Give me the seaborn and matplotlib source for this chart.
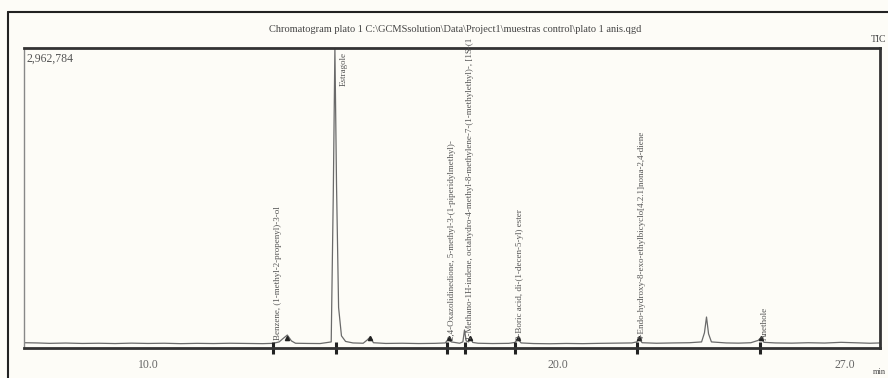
import numpy as np
import pandas as pd
import matplotlib
matplotlib.use("Agg")
import matplotlib.pyplot as plt
from matplotlib.lines import Line2D
import seaborn as sns

# ---- data (time in min, intensity in counts) ----
times = [7.00, 7.30, 7.60, 8.00, 8.40, 8.80, 9.20, 9.60, 10.00, 10.40, 10.80,
         11.20, 11.60, 12.00, 12.40, 12.80, 13.05, 13.20, 13.30, 13.40, 13.50,
         13.60, 13.90, 14.20, 14.47, 14.52, 14.56, 14.60, 14.65, 14.72, 14.82,
         15.00, 15.25, 15.35, 15.42, 15.50, 15.80, 16.20, 16.60, 17.00, 17.25,
         17.32, 17.40, 17.60, 17.68, 17.72, 17.76, 17.82, 17.86, 17.92, 18.05,
         18.40, 18.80, 18.95, 19.02, 19.10, 19.40, 19.80, 20.20, 20.60, 21.00,
         21.40, 21.80, 21.92, 21.98, 22.05, 22.40, 22.80, 23.20, 23.50, 23.57,
         23.62, 23.67, 23.74, 24.10, 24.40, 24.70, 24.88, 24.94, 25.02, 25.30,
         25.70, 26.10, 26.50, 26.90, 27.30, 27.60, 27.85]
intensity = [52000, 50000, 46000, 49000, 45000, 47000, 44000, 48000, 45000,
             47000, 43000, 46000, 44000, 47000, 45000, 43000, 46000, 60000,
             95000, 128000, 70000, 47000, 45000, 44000, 60000, 1500000,
             2962784, 1600000, 400000, 120000, 65000, 50000, 47000, 80000,
             109000, 52000, 45000, 47000, 44000, 46000, 50000, 85000, 60000,
             47000, 60000, 178000, 70000, 60000, 109000, 55000, 47000, 44000,
             46000, 55000, 90000, 50000, 44000, 42000, 45000, 43000, 46000,
             48000, 50000, 60000, 95000, 52000, 47000, 50000, 52000, 60000,
             150000, 306000, 140000, 60000, 50000, 48000, 52000, 75000,
             100000, 56000, 50000, 48000, 52000, 49000, 56000, 51000, 47000,
             50000]

peak_times = [13.05, 14.58, 17.30, 17.74, 18.95, 21.92, 24.92]
peak_names = [
    "Benzene, (1-methyl-2-propenyl)-3-ol",
    "Estragole",
    "2,4-Oxazolidinedione, 5-methyl-3-(1-piperidylmethyl)-",
    "1-Methano-1H-indene, octahydro-4-methyl-8-methylene-7-(1-methylethyl)-, [1S-(1",
    "9-Boric acid, di-(1-decen-5-yl) ester",
    "4-Endo-hydroxy-8-exo-ethylbicyclo[4.2.1]nona-2,4-diene",
    "Anethole",
]
peak_marks = [13.40, 15.42, 17.35, 17.86, 19.02, 21.98, 24.94]

x_ticks = [10.0, 20.0, 27.0]
y_max = 2962784

df = pd.DataFrame({"time": times, "intensity": intensity})

sns.set_style("white")
plt.rcParams["font.family"] = ["Liberation Serif", "DejaVu Serif"]
bg = "#fdfcf7"
ink = "#555555"

fig = plt.figure(figsize=(8.88, 3.78), dpi=100, facecolor=bg)
ax = fig.add_axes([24 / 888, 1 - 348 / 378, 856 / 888, 300 / 378])
ax.set_facecolor(bg)

sns.lineplot(data=df, x="time", y="intensity", ax=ax, color="#6a6a6a",
             linewidth=0.9, estimator=None, sort=False)

ax.set_xlim(6.98, 27.85)
ax.set_ylim(0, y_max)
ax.set_xlabel("")
ax.set_ylabel("")

# ticks: minor every minute, labels only at a few positions
ax.set_xticks(np.arange(7, 28, 1.0), minor=True)
ax.set_xticks(x_ticks)
ax.set_xticklabels([f"{t:.1f}" for t in x_ticks], color="#666666", fontsize=8.5)
ax.tick_params(axis="x", which="both", direction="out", length=3, width=1.2,
               color="#333333", pad=5)
ax.tick_params(axis="y", left=False, labelleft=False)

for side in ["top", "bottom", "right"]:
    ax.spines[side].set_color("#333333")
    ax.spines[side].set_linewidth(2.0)
ax.spines["left"].set_color("#888888")
ax.spines["left"].set_linewidth(1.0)

# peak integration markers on the axis line and small marks on the baseline
ax.plot(peak_times, [0] * len(peak_times), ls="none", marker="|", ms=8,
        mew=2.2, color="#222222", clip_on=False)
ax.plot(peak_marks, [95000] * len(peak_marks), ls="none", marker="^", ms=3,
        color="#222222")

# compound labels
for t, name in zip(peak_times, peak_names):
    if name == "Estragole":
        ax.text(t + 0.2, y_max * 0.985, name, rotation=90, ha="center",
                va="top", fontsize=6.5, color=ink)
    else:
        ax.text(t + 0.12, 80000, name, rotation=90, ha="center",
                va="bottom", fontsize=6.5, color=ink)

ax.text(0.003, 0.985, "2,962,784", transform=ax.transAxes, ha="left",
        va="top", fontsize=8.5, color=ink)

fig.text(455 / 888, 1 - 30 / 378,
         "Chromatogram plato 1 C:\\GCMSsolution\\Data\\Project1\\muestras control\\plato 1 anis.qgd",
         ha="center", va="center", fontsize=7.5, color="#444444")
fig.text(886 / 888, 1 - 40 / 378, "TIC", ha="right", va="center",
         fontsize=7, color="#444444")
fig.text(886 / 888, 1 - 372 / 378, "min", ha="right", va="center",
         fontsize=6, color="#444444")

# outer frame (left and top edges)
fig.add_artist(Line2D([8 / 888, 8 / 888], [0, 1 - 12 / 378],
                      transform=fig.transFigure, color="#222222", lw=1.5))
fig.add_artist(Line2D([8 / 888, 1], [1 - 12 / 378, 1 - 12 / 378],
                      transform=fig.transFigure, color="#222222", lw=1.5))

fig.savefig("out.png", dpi=100, facecolor=bg)
